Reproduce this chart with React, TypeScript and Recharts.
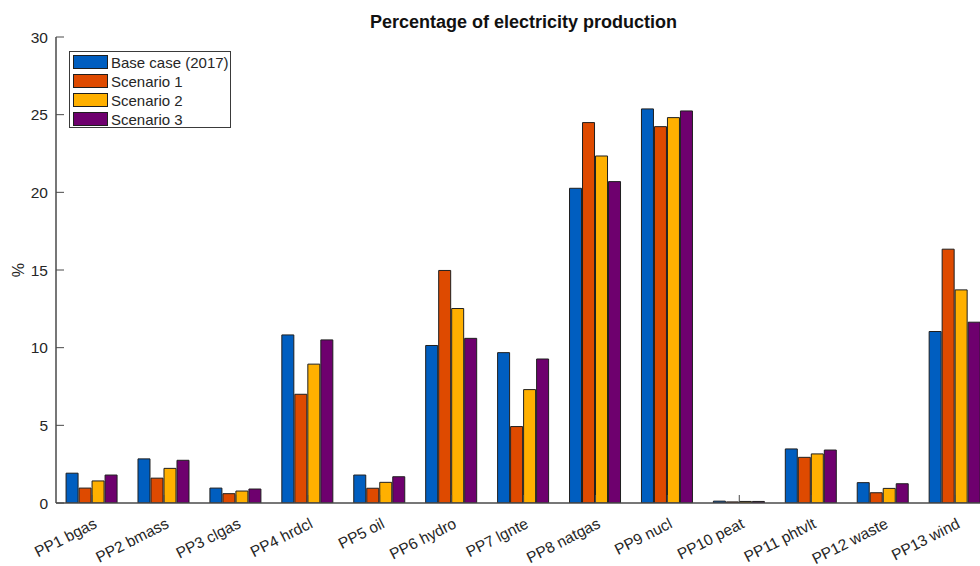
import React from 'react';
import { BarChart, Bar, XAxis, YAxis } from 'recharts';

const CATEGORIES = ['PP1 bgas', 'PP2 bmass', 'PP3 clgas', 'PP4 hrdcl', 'PP5 oil', 'PP6 hydro', 'PP7 lgnte', 'PP8 natgas', 'PP9 nucl', 'PP10 peat', 'PP11 phtvlt', 'PP12 waste', 'PP13 wind'];
const BASE_CASE = [1.92, 2.84, 0.96, 10.82, 1.8, 10.14, 9.68, 20.26, 25.37, 0.12, 3.48, 1.31, 11.04];
const SCENARIO_1 = [0.96, 1.6, 0.6, 7.0, 0.95, 14.97, 4.92, 24.49, 24.23, 0.07, 2.94, 0.66, 16.34];
const SCENARIO_2 = [1.42, 2.23, 0.77, 8.94, 1.33, 12.52, 7.3, 22.34, 24.81, 0.1, 3.16, 0.94, 13.72];
const SCENARIO_3 = [1.8, 2.75, 0.9, 10.5, 1.69, 10.6, 9.27, 20.69, 25.24, 0.1, 3.41, 1.24, 11.64];
const SERIES_NAMES = ['Base case (2017)', 'Scenario 1', 'Scenario 2', 'Scenario 3'];
const SERIES_KEYS = ['base', 's1', 's2', 's3'];
const SERIES_COLORS = ['#005EC0', '#DE4A00', '#FFB000', '#6E006E'];
const Y_TICKS = [0, 5, 10, 15, 20, 25, 30];
const TITLE = 'Percentage of electricity production';
const Y_LABEL = '%';

const data = CATEGORIES.map((name, i) => ({
  name,
  base: BASE_CASE[i],
  s1: SCENARIO_1[i],
  s2: SCENARIO_2[i],
  s3: SCENARIO_3[i],
}));

const FONT = '"Liberation Sans", Arial, Helvetica, sans-serif';
const AXIS = '#4a4a4a';
const TEXT = '#262626';

const BottomTick = (props: any) => {
  const { x, y, payload } = props;
  const ax = x + 6;
  const ay = y + 24;
  return (
    <g>
      <line x1={x} x2={x} y1={y} y2={y - 8} stroke={AXIS} strokeWidth={1} />
      <text x={ax} y={ay} textAnchor="end" transform={`rotate(-27 ${ax} ${ay})`} fontSize={15.5} fill={TEXT} fontFamily={FONT}>
        {payload.value}
      </text>
    </g>
  );
};

const TopTick = (props: any) => {
  const { x, y } = props;
  return <line x1={x} x2={x} y1={y} y2={y + 8} stroke={AXIS} strokeWidth={1} />;
};

const LeftTick = (props: any) => {
  const { x, y, payload } = props;
  return (
    <g>
      <line x1={x} x2={x + 8} y1={y} y2={y} stroke={AXIS} strokeWidth={1} />
      <text x={x - 8} y={y + 5.5} textAnchor="end" fontSize={15.5} fill={TEXT} fontFamily={FONT}>
        {payload.value}
      </text>
    </g>
  );
};

const YLabel = () => (
  <text x={24} y={270} transform="rotate(-90 24 270)" textAnchor="middle" fontSize={16} fill={TEXT} fontFamily={FONT}>
    {Y_LABEL}
  </text>
);

export default function App() {
  return (
    <div style={{ position: 'fixed', left: 0, top: 0, width: 980, height: 566, overflow: 'hidden', background: '#fff' }}>
      <BarChart
        width={1000}
        height={566}
        data={data}
        margin={{ top: 37, right: 9, left: 0, bottom: 0 }}
        barCategoryGap="14%"
        barGap={1}
      >
        <XAxis
          dataKey="name"
          height={63}
          interval={0}
          tick={BottomTick}
          tickLine={false}
          tickSize={0}
          tickMargin={0}
          axisLine={{ stroke: AXIS, strokeWidth: 1.5 }}
        />
        <XAxis
          xAxisId="top"
          orientation="top"
          dataKey="name"
          height={0}
          interval={0}
          tick={TopTick}
          tickLine={false}
          tickSize={0}
          tickMargin={0}
          axisLine={{ stroke: AXIS, strokeWidth: 1.5 }}
        />
        <YAxis
          width={56}
          domain={[0, 30]}
          ticks={Y_TICKS}
          interval={0}
          allowDataOverflow
          tick={LeftTick}
          tickLine={false}
          tickSize={0}
          tickMargin={0}
          axisLine={{ stroke: AXIS, strokeWidth: 1.5 }}
          label={YLabel}
        />
        {SERIES_KEYS.map((k, i) => (
          <Bar
            key={k}
            dataKey={k}
            name={SERIES_NAMES[i]}
            fill={SERIES_COLORS[i]}
            stroke="#1f1f1f"
            strokeWidth={1}
            isAnimationActive={false}
          />
        ))}
      </BarChart>
      <div
        style={{
          position: 'absolute',
          left: 56,
          width: 935,
          top: 12,
          textAlign: 'center',
          fontFamily: FONT,
          fontWeight: 'bold',
          fontSize: 18,
          lineHeight: '20px',
          color: '#111',
        }}
      >
        {TITLE}
      </div>
      <div
        style={{
          position: 'absolute',
          left: 69,
          top: 51,
          width: 160,
          height: 75,
          border: '1px solid #3a3a3a',
          background: '#fff',
          fontFamily: FONT,
          fontSize: 15,
          color: TEXT,
        }}
      >
        {SERIES_NAMES.map((n, i) => (
          <div key={n} style={{ position: 'absolute', left: 0, top: 1 + 19 * i, height: 19, width: 160 }}>
            <div
              style={{
                position: 'absolute',
                left: 3,
                top: 2,
                width: 33,
                height: 12,
                background: SERIES_COLORS[i],
                border: '1px solid #1f1f1f',
              }}
            />
            <div style={{ position: 'absolute', left: 41, top: 0, lineHeight: '19px', whiteSpace: 'nowrap' }}>{n}</div>
          </div>
        ))}
      </div>
    </div>
  );
}
